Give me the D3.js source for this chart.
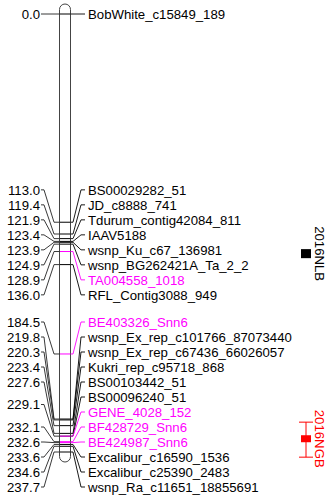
<!DOCTYPE html>
<html>
<meta charset="utf-8">
<style>
    body { margin: 0; background: #fff; }
    text { font-family: "Liberation Sans", Arial, sans-serif; font-size: 13.2px; }
    .chrom { fill: #fff; stroke: #444; stroke-width: 1px; }
    .link { fill: none; stroke: #222; stroke-width: 0.9px; }
</style>
<body>
<script src="https://d3js.org/d3.v7.min.js"></script>
<script>

    var width = 330,
        height = 499;

    // marker names and map positions (cM), top to bottom
    var markerNames = [
        "BobWhite_c15849_189", "BS00029282_51", "JD_c8888_741", "Tdurum_contig42084_811",
        "IAAV5188", "wsnp_Ku_c67_136981", "wsnp_BG262421A_Ta_2_2", "TA004558_1018",
        "RFL_Contig3088_949", "BE403326_Snn6", "wsnp_Ex_rep_c101766_87073440",
        "wsnp_Ex_rep_c67436_66026057", "Kukri_rep_c95718_868", "BS00103442_51",
        "BS00096240_51", "GENE_4028_152", "BF428729_Snn6", "BE424987_Snn6",
        "Excalibur_c16590_1536", "Excalibur_c25390_2483", "wsnp_Ra_c11651_18855691"
    ];
    var markerPos = [
        0.0, 113.0, 119.4, 121.9, 123.4, 123.9, 124.9, 128.9, 136.0, 184.5, 219.8,
        220.3, 223.4, 227.6, 229.1, 229.1, 232.1, 232.6, 233.6, 234.6, 237.7
    ];
    // markers shown highlighted
    var highlighted = ["TA004558_1018", "BE403326_Snn6", "GENE_4028_152", "BF428729_Snn6", "BE424987_Snn6"];

    // QTL intervals (cM)
    var qtlNames = ["2016NLB", "2016NGB"];
    var qtlInner = [[127.6, 132.5], [228.6, 232.4]];
    var qtlOuter = [[127.6, 132.5], [221.5, 240.5]];

    var chromX = 59, chromW = 11;
    var rowGap = 15;

    var y = d3.scaleLinear()
        .domain([0, d3.max(markerPos)])
        .range([14, 452]);

    var svg = d3.select("body").append("svg")
        .attr("width", width)
        .attr("height", height);

    // spread labels so they don't overlap
    function spread(targets, gap, lo, hi) {
        var cl = targets.map(function (t, i) { return { start: i, n: 1, sum: t, top: t }; });
        function place(c) {
            var t = c.sum / c.n - gap * (c.n - 1) / 2;
            c.top = Math.max(lo, Math.min(hi - gap * (c.n - 1), t));
        }
        cl.forEach(place);
        var again = true;
        while (again) {
            again = false;
            for (var i = 0; i < cl.length - 1; i++) {
                var a = cl[i], b = cl[i + 1];
                if (a.top + gap * a.n > b.top + 1e-6) {
                    a.n += b.n; a.sum += b.sum;
                    cl.splice(i + 1, 1);
                    place(a);
                    again = true;
                    break;
                }
            }
        }
        var out = [];
        cl.forEach(function (c) {
            for (var k = 0; k < c.n; k++) out.push(c.top + k * gap);
        });
        return out;
    }

    var markers = markerNames.map(function (n, i) {
        return { name: n, pos: markerPos[i], hi: highlighted.indexOf(n) >= 0 };
    });
    var labelY = spread(markers.map(function (d) { return y(d.pos); }), rowGap, 8, height - 12);
    markers.forEach(function (d, i) { d.ly = labelY[i]; });

    // left labels: one per distinct position, centred on its right-hand rows
    var leftLabels = Array.from(d3.group(markers, function (d) { return d.pos; }), function (g) {
        return { pos: g[0], ly: d3.mean(g[1], function (d) { return d.ly; }) };
    });

    var color = function (d) { return d.hi ? "#ff00ff" : "#000"; };
    var line = d3.line();

    // chromosome
    svg.append("rect")
        .attr("class", "chrom")
        .attr("x", chromX + 0.5)
        .attr("y", y(0) - 10)
        .attr("width", chromW)
        .attr("height", y(d3.max(markerPos)) - y(0) + 20)
        .attr("rx", chromW / 2)
        .attr("ry", chromW / 2);

    // left connectors
    svg.selectAll(".lleft")
        .data(leftLabels)
        .enter().append("path")
        .attr("class", "link")
        .attr("d", function (d) {
            var my = y(d.pos);
            return line([[chromX + 0.5, my], [54, my], [44, d.ly], [41, d.ly]]);
        });

    // right connectors
    svg.selectAll(".lright")
        .data(markers)
        .enter().append("path")
        .attr("class", "link")
        .style("stroke", color)
        .attr("d", function (d) {
            var my = y(d.pos), x1 = chromX + chromW + 0.5;
            return line([[x1, my], [73, my], [81, d.ly], [85, d.ly]]);
        });

    // marker lines across the chromosome
    svg.selectAll(".tick")
        .data(markers)
        .enter().append("line")
        .attr("x1", chromX + 1)
        .attr("x2", chromX + chromW)
        .attr("y1", function (d) { return y(d.pos); })
        .attr("y2", function (d) { return y(d.pos); })
        .style("stroke", color)
        .style("stroke-width", 1);

    svg.selectAll(".posLabel")
        .data(leftLabels)
        .enter().append("text")
        .attr("x", 40)
        .attr("y", function (d) { return d.ly; })
        .attr("dy", "0.36em")
        .attr("text-anchor", "end")
        .text(function (d) { return d.pos.toFixed(1); });

    svg.selectAll(".nameLabel")
        .data(markers)
        .enter().append("text")
        .attr("x", 88)
        .attr("y", function (d) { return d.ly; })
        .attr("dy", "0.36em")
        .style("fill", color)
        .text(function (d) { return d.name; });

    // QTLs
    var qtlColor = ["#000", "#ff0000"];
    var qx = 306, boxW = 10, capW = 14;
    qtlNames.forEach(function (name, i) {
        var g = svg.append("g").style("fill", qtlColor[i]).style("stroke", qtlColor[i]);
        var o = qtlOuter[i], b = qtlInner[i];
        if (o[0] < b[0] || o[1] > b[1]) {
            g.append("line").attr("x1", qx).attr("x2", qx)
                .attr("y1", y(o[0])).attr("y2", y(o[1]));
            [o[0], o[1]].forEach(function (v) {
                g.append("line").attr("x1", qx - capW / 2).attr("x2", qx + capW / 2)
                    .attr("y1", y(v)).attr("y2", y(v));
            });
        }
        g.append("rect")
            .attr("x", qx - boxW / 2)
            .attr("y", y(b[0]))
            .attr("width", boxW)
            .attr("height", y(b[1]) - y(b[0]))
            .style("stroke", "none");
        var cy = (y(b[0]) + y(b[1])) / 2;
        g.append("text")
            .attr("transform", "translate(315," + cy + ") rotate(90)")
            .attr("text-anchor", "middle")
            .style("stroke", "none")
            .text(name);
    });

</script>
</body>
</html>
